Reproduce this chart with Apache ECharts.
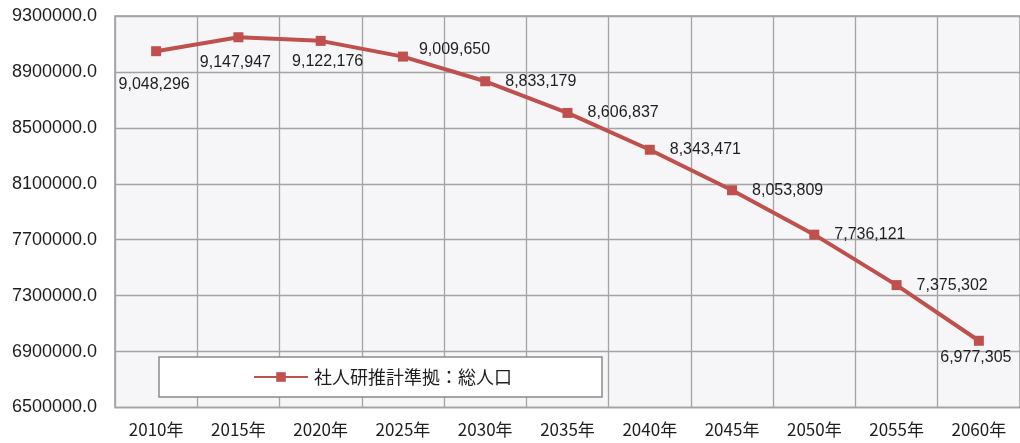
<!DOCTYPE html>
<html>
<head>
<meta charset="utf-8">
<script src="https://cdn.jsdelivr.net/npm/echarts@6/dist/echarts.min.js"></script>
<style>
  html, body { margin: 0; padding: 0; background: #ffffff; }
  #chart { width: 1020px; height: 443px; }
</style>
</head>
<body>
<div id="chart"></div>
<script>
// Projected total population (社人研推計準拠)
const years = ['2010年', '2015年', '2020年', '2025年', '2030年', '2035年',
               '2040年', '2045年', '2050年', '2055年', '2060年'];
const population = [9048296, 9147947, 9122176, 9009650, 8833179, 8606837,
                    8343471, 8053809, 7736121, 7375302, 6977305];
const seriesName = '社人研推計準拠：総人口';
const yMin = 6500000;
const yMax = 9300000;
const yStep = 400000;

// Label placement per point: most labels sit to the right of the marker,
// a few sit below it.
const labelPlacement = {
  0: { position: 'bottom', distance: 20, offset: [-2, 0] },
  1: { position: 'bottom', distance: 12, offset: [-3, 0] },
  2: { position: 'bottom', distance: 8, offset: [7, 0] },
  3: { position: 'right', distance: 11, offset: [0, -7] },
  10: { position: 'bottom', distance: 4, offset: [-3, 0] }
};

const fmt = v => v.toLocaleString('en-US');

const seriesData = population.map((v, i) => {
  const item = { value: v };
  if (labelPlacement[i]) item.label = labelPlacement[i];
  return item;
});

const chart = echarts.init(document.getElementById('chart'), null, { renderer: 'canvas' });

chart.setOption({
  animation: false,
  backgroundColor: '#ffffff',
  textStyle: { fontFamily: '"Liberation Sans", Arial, sans-serif' },
  grid: {
    left: 115,
    top: 16,
    right: -11,
    bottom: 35.5,
    show: true,
    backgroundColor: '#f6f6f9',
    borderColor: '#9a9a9a',
    borderWidth: 1.5
  },
  legend: {
    data: [seriesName],
    left: 159,
    top: 357,
    padding: [11, 90, 11, 94],
    backgroundColor: '#ffffff',
    borderColor: '#8a8a8a',
    borderWidth: 1.5,
    itemWidth: 54,
    itemHeight: 12,
    itemGap: 0,
    textStyle: {
      fontFamily: '"Noto Sans CJK JP", sans-serif',
      fontSize: 18,
      color: '#1e1e1e',
      padding: [0, 0, 0, 1]
    }
  },
  xAxis: {
    type: 'category',
    data: years,
    boundaryGap: true,
    axisLine: { show: false },
    axisTick: { show: false },
    axisLabel: {
      interval: 0,
      margin: 14,
      fontFamily: '"Noto Sans CJK JP", sans-serif',
      fontSize: 17,
      color: '#1e1e1e'
    },
    splitLine: {
      show: true,
      interval: 0,
      lineStyle: { color: '#a4a4a4', width: 1.3 }
    }
  },
  yAxis: {
    type: 'value',
    min: yMin,
    max: yMax,
    interval: yStep,
    axisLine: { show: false },
    axisTick: { show: false },
    axisLabel: {
      margin: 18,
      fontSize: 18,
      color: '#1e1e1e',
      formatter: v => v.toFixed(1)
    },
    splitLine: {
      show: true,
      lineStyle: { color: '#a4a4a4', width: 1.3 }
    }
  },
  series: [{
    name: seriesName,
    type: 'line',
    data: seriesData,
    symbol: 'rect',
    symbolSize: 10,
    smooth: false,
    lineStyle: { color: '#c0504d', width: 4 },
    itemStyle: { color: '#c0504d' },
    label: {
      show: true,
      position: 'right',
      distance: 15,
      fontSize: 16,
      color: '#1e1e1e',
      formatter: p => fmt(p.value)
    },
    emphasis: { disabled: true },
    z: 3
  }]
});
</script>
</body>
</html>
